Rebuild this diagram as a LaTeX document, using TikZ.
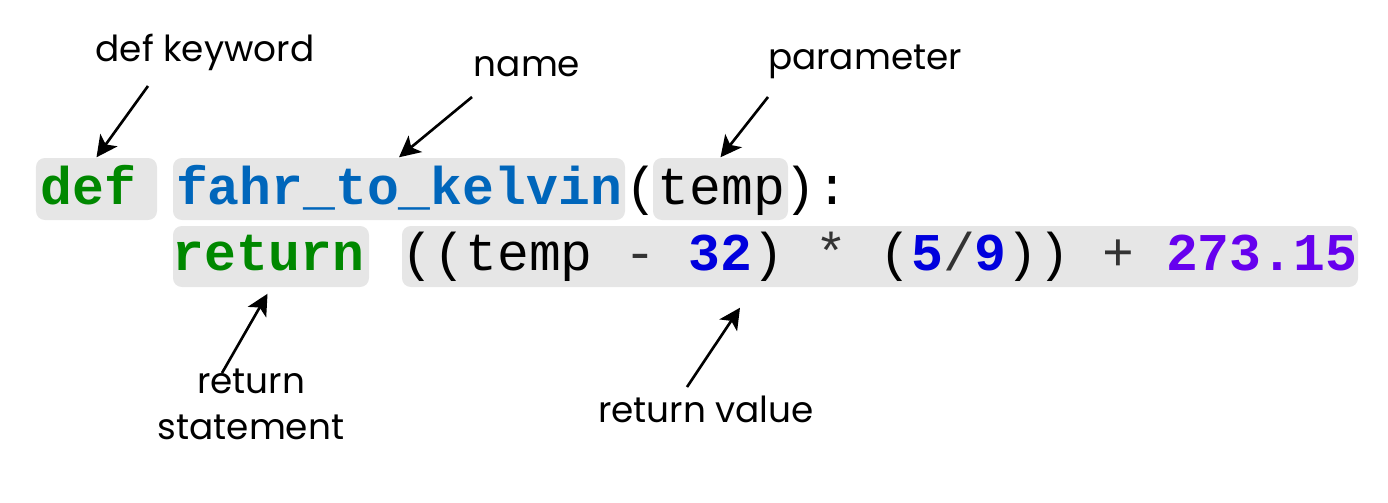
\documentclass[tikz,border=0pt]{standalone}
\usepackage{fontspec}
\setmonofont{Liberation Mono}
\newfontfamily\notefont{Poppins}
\usepackage{tikz}
\usetikzlibrary{positioning, arrows.meta}

\definecolor{kwgreen}{HTML}{008800}
\definecolor{fnblue}{HTML}{0066BB}
\definecolor{numblue}{HTML}{0000DD}
\definecolor{fltpurple}{HTML}{6600EE}
\definecolor{opgray}{HTML}{333333}
\definecolor{boxgray}{HTML}{E6E6E6}

\newcommand{\opsym}[1]{\textcolor{opgray}{#1}}
\newcommand{\numlit}[1]{\textcolor{numblue}{\textbf{#1}}}

\begin{document}
\begin{tikzpicture}[
  x=1cm, y=-1cm,
  codebox/.style={rectangle, rounded corners=2.5pt, fill=boxgray, draw=none,
                  inner sep=0pt, minimum height=0.62cm},
  code/.style={font=\ttfamily\fontsize{15.1}{18}\selectfont, inner sep=0pt},
  note/.style={font=\notefont\fontsize{10.2}{13}\selectfont, align=center, inner sep=0pt},
  pointer/.style={-{Stealth[length=6pt, width=6pt, inset=1.5pt]}, line width=0.75pt}
]
\useasboundingbox (0,0) rectangle (13.88,5.02);

% Highlight boxes
\node[codebox, minimum width=1.21cm] (defbox)   at (0.965,1.89) {};
\node[codebox, minimum width=4.52cm] (namebox)  at (3.99,1.89) {};
\node[codebox, minimum width=1.35cm] (parambox) at (7.205,1.89) {};
\node[codebox, minimum width=1.96cm, minimum height=0.61cm] (retbox) at (2.71,2.565) {};
\node[codebox, minimum width=9.56cm, minimum height=0.61cm] (valbox) at (8.80,2.565) {};

% Code, line 1
\node[code, anchor=base west] (kwdef) at (0.40,2.04) {\textcolor{kwgreen}{\textbf{def}}};
\node[code, anchor=base]      (fname) at (3.99,2.04) {\textcolor{fnblue}{\textbf{fahr\_to\_kelvin}}};
\node[code, anchor=base west] (args)  at (6.25,2.04) {(temp):};

% Code, line 2
\node[code, anchor=base]      (kwret) at (2.685,2.70) {\textcolor{kwgreen}{\textbf{return}}};
\node[code, anchor=base west] (expr)  at (4.01,2.70)
  {((temp \opsym{-} \numlit{32}) \opsym{*} (\numlit{5}\opsym{/}\numlit{9})) \opsym{+} \textcolor{fltpurple}{\textbf{273.15}}};

% Labels
\node[note, anchor=base] (lkw)    at (2.05,0.61) {def keyword};
\node[note, anchor=base] (lname)  at (5.27,0.76) {name};
\node[note, anchor=base] (lparam) at (8.65,0.69) {parameter};
\node[note, anchor=base] (lret)   at (2.51,4.39) {return\\statement};
\node[note, anchor=base] (lval)   at (7.06,4.22) {return value};

% Arrow tails
\coordinate (kwtail)    at (1.48,0.86);
\coordinate (nametail)  at (4.72,0.97);
\coordinate (paramtail) at (7.68,0.97);
\coordinate (rettail)   at (2.22,3.73);
\coordinate (valtail)   at (6.87,3.87);

% Arrows
\draw[pointer] (kwtail) -- (defbox.north);
\draw[pointer] (nametail) -- (namebox.north);
\draw[pointer] (paramtail) -- (parambox.north);
\draw[pointer, shorten >=0.07cm] (rettail) -- (retbox.south);
\draw[pointer] (valtail) -- ([xshift=-1.40cm, yshift=-0.20cm]valbox.south);

\end{tikzpicture}
\end{document}
